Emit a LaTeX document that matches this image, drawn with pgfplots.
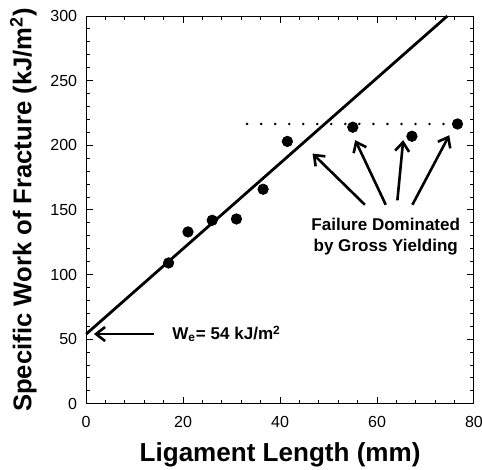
\documentclass[border=0pt]{standalone}
\usepackage{pgfplots}
\pgfplotsset{compat=1.18}
\usepackage{fontspec}
\setmainfont{Liberation Sans}
\usetikzlibrary{arrows.meta}
\begin{document}
\begin{tikzpicture}
  \begin{axis}[
      at={(0,0)}, anchor=south west,
      scale only axis, width=193.5pt, height=193.5pt,
      xmin=0, xmax=80, ymin=0, ymax=300,
      xtick={0,20,40,60,80}, ytick={0,50,100,150,200,250,300},
      minor x tick num=4, minor y tick num=4,
      major tick length=3.5pt, minor tick length=2pt,
      tick style={line width=0.5pt, black},
      axis line style={line width=0.5pt},
      tick label style={font=\fontsize{8}{9}\selectfont},
      /pgf/number format/assume math mode=true,
      xticklabel style={yshift=-2.5pt},
      yticklabel style={xshift=-1pt},
      xlabel={\bfseries Ligament Length (mm)},
      ylabel={\bfseries Specific Work of Fracture (kJ/m\textsuperscript{2})},
      xlabel style={font=\fontsize{13}{15}\selectfont, yshift=-1pt},
      ylabel style={font=\fontsize{12.8}{15}\selectfont, yshift=0pt},
      clip=false,
    ]
    % linear fit, We = 54 kJ/m^2
    \addplot[black, line width=1.4pt] coordinates {(0,54) (74.5,300)};
    % gross yielding plateau
    \addplot[black, line width=1.4pt, line cap=round, dash pattern=on 0pt off 7pt] coordinates {(33.2,216.5) (78.3,216.5)};
    % measured points
    \addplot[only marks, mark=*, mark size=2.6pt, black] coordinates {
      (17,109) (21,133) (26,142) (31,143) (36.5,166) (41.5,203)
      (55,214) (67.2,207) (76.6,216.5)};
    % annotations
    \draw[-{Straight Barb[length=4.5pt,width=7pt]}, line width=1.3pt] (axis cs:13.9,54) -- (axis cs:1.6,54);
    \node[anchor=west, font=\fontsize{8.5}{10}\selectfont\bfseries] at (axis cs:16.3,54) {W\textsubscript{e}= 54 kJ/m\textsuperscript{2}};
    \draw[-{Straight Barb[length=4.5pt,width=7pt]}, line width=1.3pt] (axis cs:57.5,154) -- (axis cs:46.7,193.6);
    \draw[-{Straight Barb[length=4.5pt,width=7pt]}, line width=1.3pt] (axis cs:61.8,154) -- (axis cs:55.5,204);
    \draw[-{Straight Barb[length=4.5pt,width=7pt]}, line width=1.3pt] (axis cs:64.2,157.4) -- (axis cs:65.4,204);
    \draw[-{Straight Barb[length=4.5pt,width=7pt]}, line width=1.3pt] (axis cs:67.3,154) -- (axis cs:74.9,207.8);
    \node[align=center, font=\fontsize{8.5}{10.5}\selectfont\bfseries] at (axis cs:61.8,129) {Failure Dominated\\by Gross Yielding};
  \end{axis}
  \pgfresetboundingbox
  \path[use as bounding box] (-43pt,-33pt) rectangle (197.5pt,201.5pt);
\end{tikzpicture}
\end{document}
